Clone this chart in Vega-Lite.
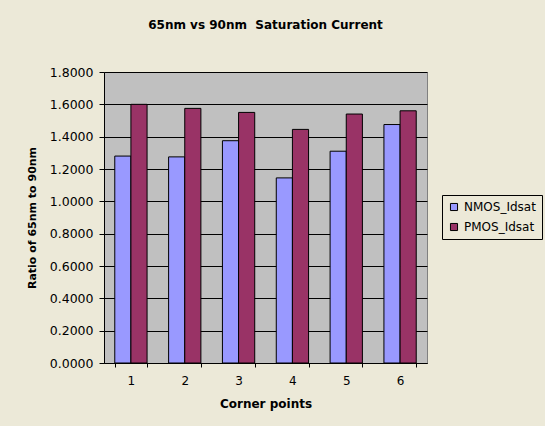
{
  "$schema": "https://vega.github.io/schema/vega-lite/v6.json",
  "width": 323,
  "height": 291,
  "autosize": {"type": "none"},
  "padding": {"left": 104, "top": 72, "right": 118, "bottom": 63},
  "background": "#ECE9D8",
  "title": {
    "text": "65nm vs 90nm\u00a0 Saturation Current",
    "font": "DejaVu Sans",
    "fontSize": 12,
    "fontWeight": "bold",
    "color": "black",
    "anchor": "middle",
    "offset": 34
  },
  "data": {
    "values": [
      {"point": "1", "series": "NMOS_Idsat", "ratio": 1.28},
      {"point": "1", "series": "PMOS_Idsat", "ratio": 1.60},
      {"point": "2", "series": "NMOS_Idsat", "ratio": 1.275},
      {"point": "2", "series": "PMOS_Idsat", "ratio": 1.575},
      {"point": "3", "series": "NMOS_Idsat", "ratio": 1.375},
      {"point": "3", "series": "PMOS_Idsat", "ratio": 1.55},
      {"point": "4", "series": "NMOS_Idsat", "ratio": 1.145},
      {"point": "4", "series": "PMOS_Idsat", "ratio": 1.445},
      {"point": "5", "series": "NMOS_Idsat", "ratio": 1.31},
      {"point": "5", "series": "PMOS_Idsat", "ratio": 1.54},
      {"point": "6", "series": "NMOS_Idsat", "ratio": 1.475},
      {"point": "6", "series": "PMOS_Idsat", "ratio": 1.56}
    ]
  },
  "mark": {"type": "bar", "stroke": "black", "strokeWidth": 1},
  "encoding": {
    "x": {
      "field": "point",
      "type": "ordinal",
      "scale": {"paddingInner": 0.4, "paddingOuter": 0.2},
      "axis": {
        "title": "Corner points",
        "labelAngle": 0,
        "tickBand": "extent",
        "tickSize": 4,
        "tickColor": "black",
        "domainColor": "black",
        "labelFont": "DejaVu Sans",
        "labelFontSize": 12,
        "labelColor": "black",
        "labelPadding": 8,
        "titleFont": "DejaVu Sans",
        "titleFontSize": 12,
        "titleFontWeight": "bold",
        "titleColor": "black",
        "titlePadding": 12,
        "grid": false
      }
    },
    "xOffset": {"field": "series", "scale": {"paddingInner": 0, "paddingOuter": 0}},
    "y": {
      "field": "ratio",
      "type": "quantitative",
      "scale": {"domain": [0, 1.8], "nice": false},
      "axis": {
        "title": "Ratio of 65nm to 90nm",
        "values": [0, 0.2, 0.4, 0.6, 0.8, 1.0, 1.2, 1.4, 1.6, 1.8],
        "format": ".4f",
        "tickSize": 5,
        "tickColor": "black",
        "domainColor": "black",
        "grid": true,
        "gridColor": "black",
        "gridOpacity": 1,
        "labelFont": "DejaVu Sans",
        "labelFontSize": 12.5,
        "labelColor": "black",
        "labelPadding": 6,
        "titleFont": "DejaVu Sans",
        "titleFontSize": 11,
        "titleFontWeight": "bold",
        "titleColor": "black",
        "titlePadding": 12
      }
    },
    "color": {
      "field": "series",
      "type": "nominal",
      "scale": {"domain": ["NMOS_Idsat", "PMOS_Idsat"], "range": ["#9999FF", "#993366"]},
      "legend": {
        "title": null,
        "orient": "none",
        "legendX": 338,
        "legendY": 123,
        "fillColor": "#ECE9D8",
        "strokeColor": "black",
        "padding": 6,
        "symbolType": "square",
        "symbolSize": 50,
        "symbolStrokeColor": "black",
        "symbolStrokeWidth": 1,
        "labelFont": "DejaVu Sans",
        "labelFontSize": 12,
        "labelColor": "black",
        "rowPadding": 8
      }
    }
  },
  "config": {
    "view": {"fill": "#C0C0C0", "stroke": "#808080"}
  }
}
